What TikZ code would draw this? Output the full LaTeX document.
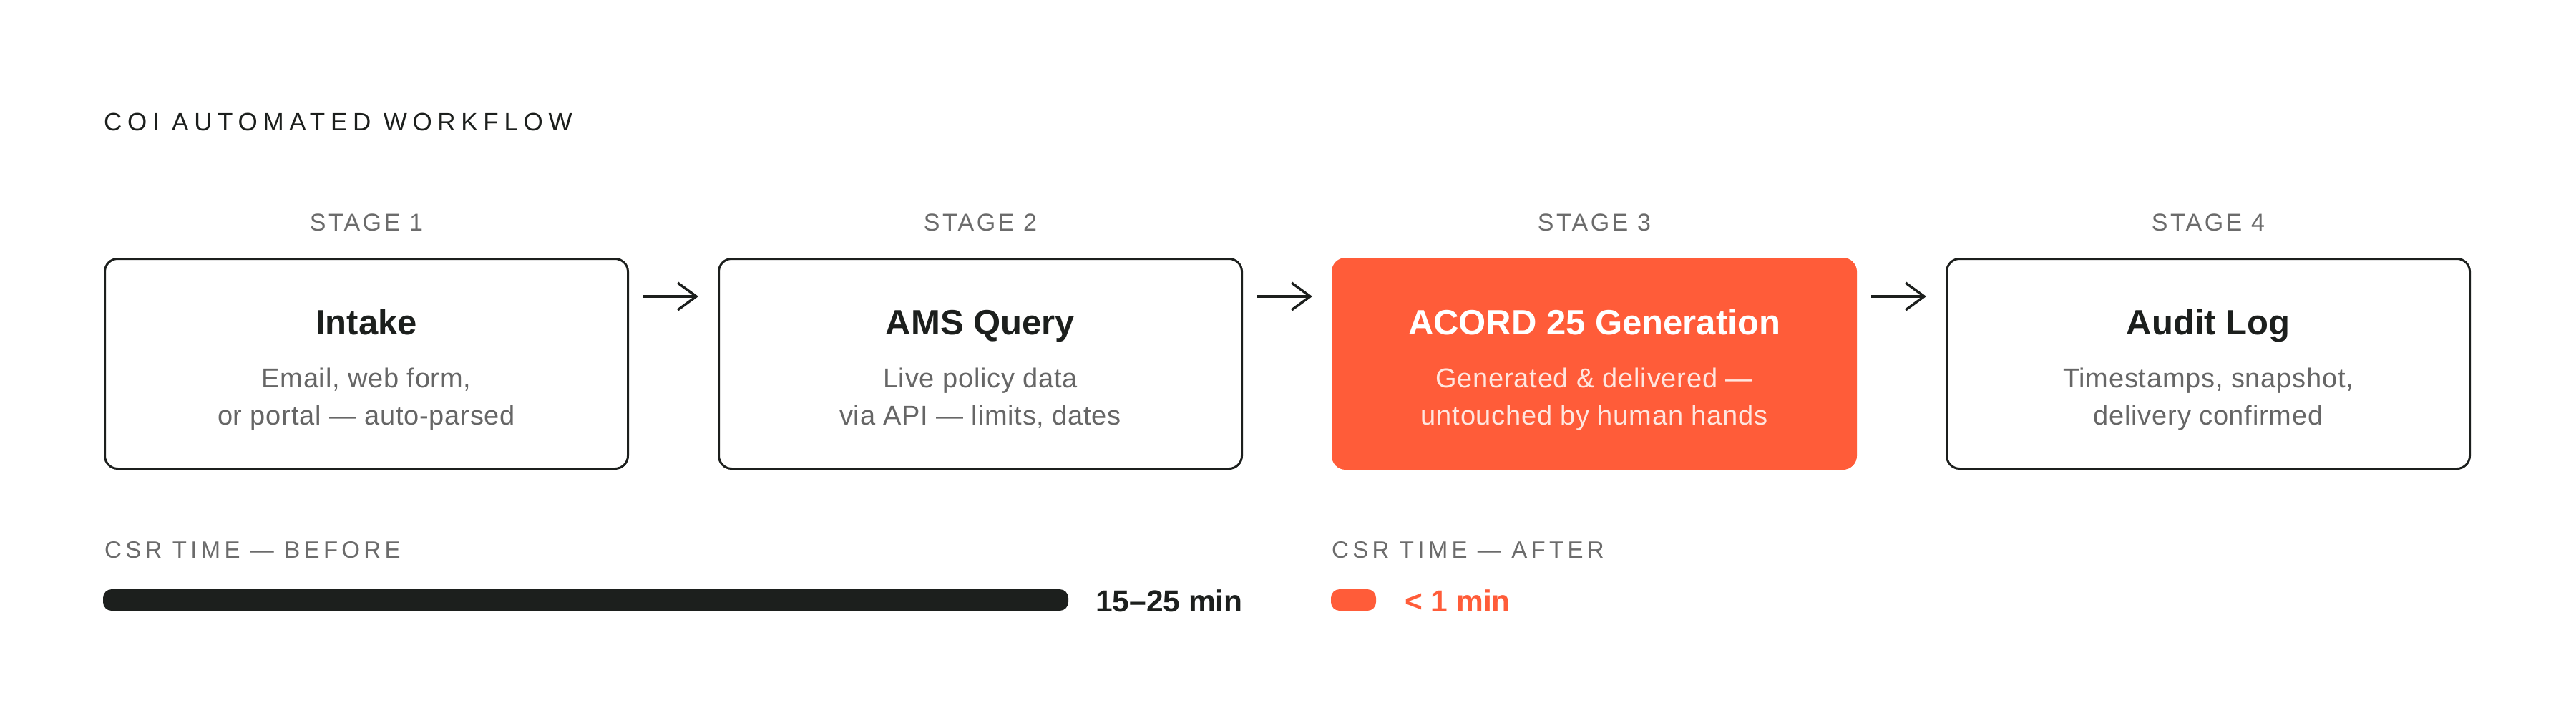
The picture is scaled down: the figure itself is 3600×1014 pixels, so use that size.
\documentclass[tikz,border=0pt]{standalone}
\usepackage{fontspec}
\setmainfont{Liberation Sans}
\usetikzlibrary{arrows.meta,calc}
\definecolor{ink}{HTML}{1C1F1D}
\definecolor{accent}{HTML}{FF5C39}
\definecolor{muted}{HTML}{6B6B6B}
\definecolor{subgray}{HTML}{666666}
\definecolor{paleonacc}{HTML}{FFE6DF}
\tikzset{
  stagebox/.style={draw=ink, line width=3pt, rounded corners=18pt, minimum width=731pt, minimum height=293pt, inner sep=0pt},
  hotbox/.style={stagebox, draw=accent, fill=accent},
  headtxt/.style={anchor=base, inner sep=0pt, text=ink, font=\fontsize{49}{58}\selectfont\bfseries},
  subtxt/.style={anchor=base, inner sep=0pt, text=subgray, font=\fontsize{38}{46}\selectfont\addfontfeature{LetterSpace=2}},
  stagetxt/.style={anchor=base, inner sep=0pt, text=muted, font=\fontsize{34}{40}\selectfont\addfontfeature{LetterSpace=10}},
  titletxt/.style={anchor=base west, inner sep=0pt, text=ink, font=\fontsize{35}{40}\selectfont\addfontfeature{LetterSpace=22}},
  csrtxt/.style={anchor=base west, inner sep=0pt, text=muted, font=\fontsize{33}{40}\selectfont\addfontfeature{LetterSpace=16}},
  valtxt/.style={anchor=base, inner sep=0pt, font=\fontsize{42.5}{50}\selectfont\bfseries},
  flow/.style={draw=ink, line width=3.5pt, -{Straight Barb[length=26pt,width=38pt,line width=3.5pt]}},
}
\begin{document}
\begin{tikzpicture}[x=1pt,y=-1pt]
\useasboundingbox (0,0) rectangle (3600,1014);
\node[titletxt] (title) at (145,182.5) {COI AUTOMATED WORKFLOW};
% boxes
\node[stagebox] (b1) at (512,508) {};
\node[stagebox] (b2) at (1370,508) {};
\node[hotbox]   (b3) at (2228,508) {};
\node[stagebox] (b4) at (3086,508) {};
% stage labels
\node[stagetxt] (l1) at (512,322) {STAGE 1};
\node[stagetxt] (l2) at (1370,322) {STAGE 2};
\node[stagetxt] (l3) at (2228,322) {STAGE 3};
\node[stagetxt] (l4) at (3086,322) {STAGE 4};
% box contents
\node[headtxt] (h1) at (512,467) {Intake};
\node[subtxt] (s1a) at (512,541) {Email, web form,};
\node[subtxt] (s1b) at (512,593) {or portal — auto-parsed};
\node[headtxt] (h2) at (1370,467) {AMS Query};
\node[subtxt] (s2a) at (1370,541) {Live policy data};
\node[subtxt] (s2b) at (1370,593) {via API — limits, dates};
\node[headtxt, text=white] (h3) at (2228,467) {ACORD 25 Generation};
\node[subtxt, text=paleonacc] (s3a) at (2228,541) {Generated \& delivered —};
\node[subtxt, text=paleonacc] (s3b) at (2228,593) {untouched by human hands};
\node[headtxt] (h4) at (3086,467) {Audit Log};
\node[subtxt] (s4a) at (3086,541) {Timestamps, snapshot,};
\node[subtxt] (s4b) at (3086,593) {delivery confirmed};
% arrows
\draw[flow] ($(b1.north east)+(20,54)$) -- ($(b2.north west)+(-27,54)$);
\draw[flow] ($(b2.north east)+(20,54)$) -- ($(b3.north west)+(-27,54)$);
\draw[flow] ($(b3.north east)+(20,54)$) -- ($(b4.north west)+(-27,54)$);
% CSR time
\node[csrtxt] (before) at (146,779) {CSR TIME — BEFORE};
\node[csrtxt] (after) at (1861,779) {CSR TIME — AFTER};
\fill[ink, rounded corners=12pt] (144,823) rectangle (1493,853);
\fill[accent, rounded corners=12pt] (1860,823) rectangle (1923,853);
\node[valtxt, text=ink, anchor=base east] (vbefore) at (1737,854) {15–25 min};
\node[valtxt, text=accent, anchor=base west] (vafter) at (1963,854) {< 1 min};
\end{tikzpicture}
\end{document}
